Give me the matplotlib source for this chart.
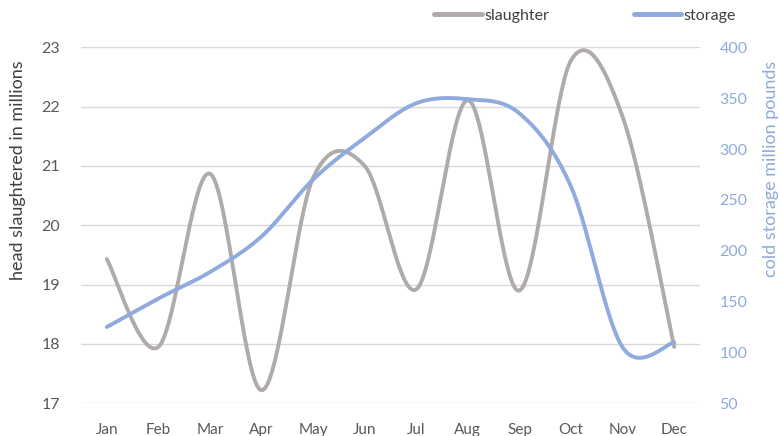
import numpy as np
import matplotlib
matplotlib.use("Agg")
import matplotlib.pyplot as plt
from matplotlib.lines import Line2D

months = ["Jan", "Feb", "Mar", "Apr", "May", "Jun", "Jul", "Aug", "Sep", "Oct", "Nov", "Dec"]
slaughter = [19.43, 17.95, 20.87, 17.22, 20.8, 21.0, 18.92, 22.11, 18.9, 22.78, 21.83, 17.95]
storage = [125, 153, 179, 214, 270, 311, 345, 349, 335, 263, 105, 110]

GREY = "#B0AAAA"
BLUE = "#8FAADC"
TXT = "#595959"

plt.rcParams["font.family"] = ["Lato", "DejaVu Sans"]


def smooth(xs, ys, n=40):
    # Excel style smoothed line: cubic bezier with catmull-rom tangents
    p = np.column_stack([xs, ys]).astype(float)
    p = np.vstack([p[0], p, p[-1]])
    t = np.linspace(0, 1, n)[:, None]
    out = []
    for i in range(1, len(p) - 2):
        a, b = p[i], p[i + 1]
        c1 = a + (p[i + 1] - p[i - 1]) / 6
        c2 = b - (p[i + 2] - p[i]) / 6
        seg = ((1 - t) ** 3) * a + 3 * ((1 - t) ** 2) * t * c1 + 3 * (1 - t) * t ** 2 * c2 + t ** 3 * b
        out.append(seg)
    out = np.vstack(out)
    return out[:, 0], out[:, 1]


fig = plt.figure(figsize=(7.8, 4.36), dpi=100)
ax = fig.add_axes([81 / 780, 1 - 403.3 / 436, (700 - 81) / 780, (403.3 - 47.3) / 436])
ax2 = ax.twinx()

x = np.arange(len(months))
sx, sy = smooth(x, slaughter)
ax.plot(sx, sy, color=GREY, lw=2.8, solid_capstyle="round", zorder=3)
tx, ty = smooth(x, storage)
ax2.plot(tx, ty, color=BLUE, lw=2.8, solid_capstyle="round", zorder=3)

ax.set_xlim(-0.5, 11.5)
ax.set_ylim(17, 23)
ax.set_yticks(range(17, 24))
ax2.set_ylim(50, 400)
ax2.set_yticks(range(50, 401, 50))
ax.set_xticks(x)
ax.set_xticklabels(months)

ax.grid(axis="y", color="#D9D9D9", lw=1)
ax.set_axisbelow(True)
for a in (ax, ax2):
    for s in a.spines.values():
        s.set_visible(False)
    a.tick_params(length=0)

ax.tick_params(axis="y", labelsize=11.5, labelcolor=TXT, pad=15)
ax.tick_params(axis="x", labelsize=11, labelcolor=TXT, pad=14)
ax2.tick_params(axis="y", labelsize=11.5, labelcolor=BLUE, pad=14)

fig.text(18 / 780, 1 - 170 / 436, "head slaughtered in millions", rotation=90,
         ha="center", va="center", fontsize=13, color="#404040")
fig.text(771 / 780, 1 - 169 / 436, "cold storage million pounds", rotation=90,
         ha="center", va="center", fontsize=13, color=BLUE)

handles = [Line2D([], [], color=GREY, lw=3.5, solid_capstyle="round"),
           Line2D([], [], color=BLUE, lw=3.5, solid_capstyle="round")]
leg = fig.legend(handles, ["slaughter", "storage"], loc="center", ncol=2,
                 bbox_to_anchor=(585 / 780, 1 - 16 / 436), frameon=False,
                 fontsize=11.5, handlelength=3.0, handletextpad=0.15, columnspacing=5.3)
for t in leg.get_texts():
    t.set_color("#404040")

fig.savefig("out.png", dpi=100)
